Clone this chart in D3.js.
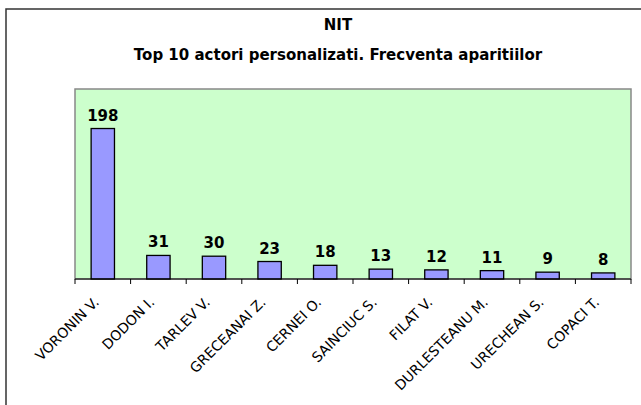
<!DOCTYPE html>
<html>
<head>
<meta charset="utf-8">
<script src="https://cdn.jsdelivr.net/npm/d3@7"></script>
<style>
    body { margin: 0; background: #fff; }
    svg  { display: block; font-family: Tahoma, "DejaVu Sans", sans-serif; }
</style>
</head>
<body>
<svg id="chart" width="641" height="405"></svg>
<script>
// Chart data
const actors = ["VORONIN V.", "DODON I.", "TARLEV V.", "GRECEANAI Z.", "CERNEI O.",
                "SAINCIUC S.", "FILAT V.", "DURLESTEANU M.", "URECHEAN S.", "COPACI T."];
const counts = [198, 31, 30, 23, 18, 13, 12, 11, 9, 8];
const titleLines = ["NIT", "Top 10 actori personalizati. Frecventa aparitiilor"];

const svg = d3.select("#chart");

// outer chart border (runs off the right / bottom edge)
svg.append("rect")
    .attr("x", 6).attr("y", 9)
    .attr("width", 700).attr("height", 500)
    .attr("fill", "#fff")
    .attr("stroke", "#333")
    .attr("stroke-width", 1.5);

const plot = {left: 75, top: 89, right: 631, bottom: 279};

let x = d3.scaleBand()
    .domain(actors)
    .range([plot.left, plot.right])
    .paddingInner(0.58)
    .paddingOuter(0.29);

let y = d3.scaleLinear()
    .domain([0, 250])
    .range([plot.bottom, plot.top]);

// plot area
svg.append("rect")
    .attr("x", plot.left).attr("y", plot.top)
    .attr("width", plot.right - plot.left)
    .attr("height", plot.bottom - plot.top)
    .attr("fill", "#ccffcc")
    .attr("stroke", "#888")
    .attr("stroke-width", 1.5);

// titles
svg.selectAll("text.title")
    .data(titleLines)
    .enter()
    .append("text")
    .attr("class", "title")
    .attr("x", 338)
    .attr("y", (d, i) => 30 + i * 30)
    .attr("text-anchor", "middle")
    .attr("font-weight", "bold")
    .attr("font-size", 15)
    .attr("fill", "#000")
    .text(d => d);

// bars
svg.selectAll("rect.bar")
    .data(counts)
    .enter()
    .append("rect")
    .attr("class", "bar")
    .attr("x", (d, i) => x(actors[i]))
    .attr("y", d => y(d))
    .attr("width", x.bandwidth())
    .attr("height", d => y(0) - y(d))
    .attr("fill", "#9999ff")
    .attr("stroke", "#000")
    .attr("stroke-width", 1.3);

// value labels
svg.selectAll("text.value")
    .data(counts)
    .enter()
    .append("text")
    .attr("class", "value")
    .attr("x", (d, i) => x(actors[i]) + x.bandwidth() / 2)
    .attr("y", d => y(d) - 8)
    .attr("text-anchor", "middle")
    .attr("font-weight", "bold")
    .attr("font-size", 15)
    .text(d => d);

// x axis with ticks at band boundaries
let axis = svg.append("g")
    .attr("transform", "translate(0," + plot.bottom + ")");

axis.append("line")
    .attr("x1", plot.left).attr("x2", plot.right)
    .attr("stroke", "#000").attr("stroke-width", 1);

let step = x.step();
axis.selectAll("line.tick")
    .data(d3.range(actors.length + 1))
    .enter()
    .append("line")
    .attr("class", "tick")
    .attr("x1", i => plot.left + i * step)
    .attr("x2", i => plot.left + i * step)
    .attr("y1", 0).attr("y2", 5)
    .attr("stroke", "#000");

axis.selectAll("text.label")
    .data(actors)
    .enter()
    .append("text")
    .attr("class", "label")
    .attr("text-anchor", "end")
    .attr("font-size", 14)
    .attr("transform", d => "translate(" + (x(d) + x.bandwidth() / 2 - 3) + ",24) rotate(-45)")
    .text(d => d);
</script>
</body>
</html>
